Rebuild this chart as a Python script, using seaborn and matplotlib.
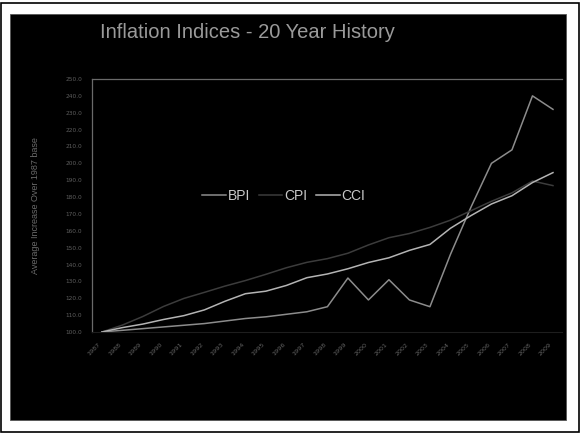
import pandas as pd
import numpy as np
import seaborn as sns
import matplotlib.pyplot as plt
from matplotlib.patches import Rectangle

# values (1987 = 100)
years = list(range(1987, 2010))
bpi = [100, 101, 102, 103, 104, 105, 106.5, 108, 109, 110.5, 112, 115,
       132, 119, 131, 119, 115, 146, 174, 200, 208, 240, 232]
cpi = [100, 104.1, 109.2, 115.1, 119.9, 123.5, 127.2, 130.5, 134.2, 138.1, 141.3, 143.5,
       146.7, 151.6, 155.9, 158.4, 162.0, 166.3, 171.9, 177.5, 182.5, 189.5, 186.8]
cci = [100, 102.6, 104.7, 107.4, 109.7, 113.1, 118.2, 122.7, 124.2, 127.6, 132.2, 134.4,
       137.5, 141.2, 144.0, 148.4, 151.9, 161.5, 169.0, 175.9, 180.8, 188.6, 194.5]
series_names = ['BPI', 'CPI', 'CCI']
series_colors = ['#8c8c8c', '#3c3c3c', '#b4b4b4']
y_ticks = list(range(100, 260, 10))

df = pd.DataFrame({'year': years, 'BPI': bpi, 'CPI': cpi, 'CCI': cci})
df_long = df.melt(id_vars='year', var_name='index', value_name='value')
df_long['pos'] = df_long['year'] - years[0]

fig = plt.figure(figsize=(5.81, 4.34), dpi=100)
fig.patch.set_facecolor('white')

# page border and black slide (kept behind the axes)
fig.add_artist(Rectangle((0.002, 0.004), 0.994, 0.99, transform=fig.transFigure,
                         facecolor='none', edgecolor='black', lw=1.2, zorder=-10))
fig.add_artist(Rectangle((10 / 581, 1 - 420 / 434), 556 / 581, 406 / 434,
                         transform=fig.transFigure, facecolor='black', edgecolor='#555555',
                         lw=0.6, zorder=-10))

ax = fig.add_axes([92 / 581, 1 - 332 / 434, 470 / 581, 253 / 434])
ax.set_facecolor('black')

sns.lineplot(data=df_long, x='pos', y='value', hue='index', hue_order=series_names,
             palette=dict(zip(series_names, series_colors)), linewidth=1.1, ax=ax)

ax.set_xlim(-0.48, 22.44)
ax.set_ylim(100, 250)
ax.set_yticks(y_ticks)
ax.set_yticklabels([f'{v:.1f}' for v in y_ticks], fontsize=4.2, color='#5e5e5e')
ax.set_xticks(range(len(years)))
ax.set_xticklabels([str(y) for y in years], rotation=45, ha='right',
                   fontsize=4.6, color='#626262')
ax.tick_params(length=0, pad=7)
ax.set_xlabel('')
ax.set_ylabel('Average Increase Over 1987 base', fontsize=6.5, color='#6a6a6a',
              family='Liberation Sans', labelpad=18)

for side in ['left', 'top']:
    ax.spines[side].set_color('#6a6a6a')
    ax.spines[side].set_linewidth(0.9)
ax.spines['right'].set_visible(False)
ax.spines['bottom'].set_color('#1e1e1e')

leg = ax.legend(loc='center', bbox_to_anchor=((284 - 92) / 470, (332 - 196) / 253),
                ncol=3, frameon=False, handlelength=1.7, handletextpad=0.15,
                columnspacing=0.6, prop={'family': 'Liberation Sans', 'size': 10})
for t in leg.get_texts():
    t.set_color('#c8c8c8')

fig.text(100 / 581, 1 - 32 / 434, 'Inflation Indices - 20 Year History', fontsize=14.5,
         color='#9a9a9a', family='Liberation Sans', ha='left', va='center')

plt.savefig('out.png', dpi=100, facecolor='white')
